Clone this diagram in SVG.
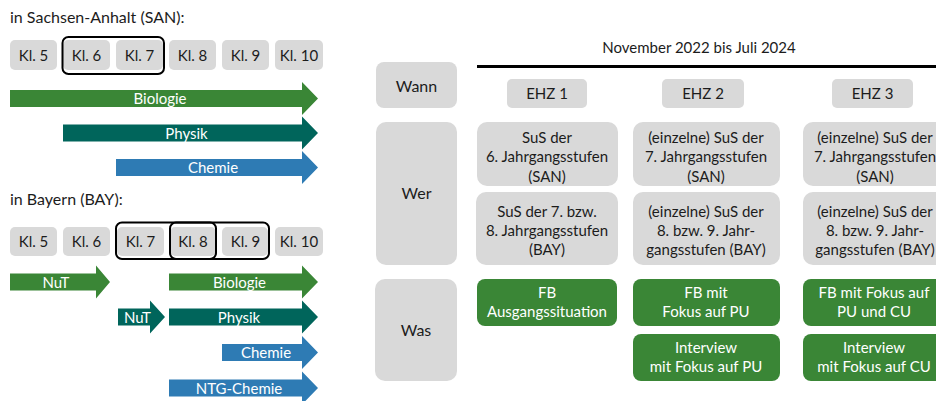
<svg xmlns="http://www.w3.org/2000/svg" width="936" height="401" viewBox="0 0 936 401">
<style>
text{font-family:Lato,"Liberation Sans",sans-serif;fill:#1c1c1c}
.t{font-size:16px}
.kl{font-size:15px;text-anchor:middle}
.box{fill:#d9d9d9}
.outl{fill:none;stroke:#000;stroke-width:2}
.ar{font-size:15px;text-anchor:middle;fill:#fff}
.green{fill:#3a8636}
.teal{fill:#00655b}
.blue{fill:#2e7bb4}
.lab{font-size:16px;text-anchor:middle}
.c{font-size:15px;text-anchor:middle}
.w{font-size:15px;text-anchor:middle;fill:#fff}
</style>

<g id="title-san"><text class="t" x="10" y="23">in Sachsen-Anhalt (SAN):</text></g>
<g id="san-kl5"><rect class="box" x="10" y="40" width="47" height="30" rx="5"/><text class="kl" x="33.5" y="60.5">Kl. 5</text></g>
<g id="san-kl6"><rect class="box" x="63" y="40" width="47" height="30" rx="5"/><text class="kl" x="86.5" y="60.5">Kl. 6</text></g>
<g id="san-kl7"><rect class="box" x="116" y="40" width="47" height="30" rx="5"/><text class="kl" x="139.5" y="60.5">Kl. 7</text></g>
<g id="san-kl8"><rect class="box" x="169" y="40" width="47" height="30" rx="5"/><text class="kl" x="192.5" y="60.5">Kl. 8</text></g>
<g id="san-kl9"><rect class="box" x="222" y="40" width="47" height="30" rx="5"/><text class="kl" x="245.5" y="60.5">Kl. 9</text></g>
<g id="san-kl10"><rect class="box" x="275" y="40" width="48" height="30" rx="5"/><text class="kl" x="299" y="60.5">Kl. 10</text></g>
<g id="san-frame"><rect class="outl" x="62.5" y="37" width="101.5" height="37" rx="6"/></g>

<g id="san-bio"><path class="green" d="M10,90 H302 V82 L318,98.5 L302,115 V107 H10 Z"/><text class="ar" x="160" y="104">Biologie</text></g>
<g id="san-phy"><path class="teal" d="M63,124.5 H302 V116.5 L318,133 L302,149.5 V141.5 H63 Z"/><text class="ar" x="186.5" y="138.5">Physik</text></g>
<g id="san-che"><path class="blue" d="M116,159 H302 V151 L318,167.5 L302,184 V176 H116 Z"/><text class="ar" x="213" y="173">Chemie</text></g>

<g id="title-bay"><text class="t" x="10" y="205">in Bayern (BAY):</text></g>
<g id="bay-kl5"><rect class="box" x="10" y="227" width="47" height="29" rx="5"/><text class="kl" x="33.5" y="247">Kl. 5</text></g>
<g id="bay-kl6"><rect class="box" x="63" y="227" width="47" height="29" rx="5"/><text class="kl" x="86.5" y="247">Kl. 6</text></g>
<g id="bay-kl7"><rect class="box" x="117" y="227" width="47" height="29" rx="5"/><text class="kl" x="140.5" y="247">Kl. 7</text></g>
<g id="bay-kl8"><rect class="box" x="170" y="227" width="46" height="29" rx="5"/><text class="kl" x="193" y="247">Kl. 8</text></g>
<g id="bay-kl9"><rect class="box" x="222" y="227" width="46" height="29" rx="5"/><text class="kl" x="245.5" y="247">Kl. 9</text></g>
<g id="bay-kl10"><rect class="box" x="275" y="227" width="48" height="29" rx="5"/><text class="kl" x="299" y="247">Kl. 10</text></g>
<g id="bay-frame"><rect class="outl" x="116" y="222.5" width="153" height="36.5" rx="6"/><rect class="outl" x="170" y="222.5" width="46" height="36.5" rx="6"/></g>

<g id="bay-nut1"><path class="green" d="M10,273.5 H96 V265.5 L110,282 L96,298.5 V290.5 H10 Z"/><text class="ar" x="56" y="287.5">NuT</text></g>
<g id="bay-bio"><path class="green" d="M169,273.5 H302 V265.5 L318,282 L302,298.5 V290.5 H169 Z"/><text class="ar" x="239.5" y="287.5">Biologie</text></g>
<g id="bay-nut2"><path class="teal" d="M118,308.5 H150 V300.5 L165,317 L150,333.5 V325.5 H118 Z"/><text class="ar" x="137.5" y="322.5">NuT</text></g>
<g id="bay-phy"><path class="teal" d="M169,308.5 H302 V300.5 L318,317 L302,333.5 V325.5 H169 Z"/><text class="ar" x="239" y="322.5">Physik</text></g>
<g id="bay-che"><path class="blue" d="M222,344 H302 V336 L318,352.5 L302,369 V361 H222 Z"/><text class="ar" x="266" y="358">Chemie</text></g>
<g id="bay-ntg"><path class="blue" d="M169,379.5 H302 V371.5 L318,388 L302,404.5 V396.5 H169 Z"/><text class="ar" x="239" y="393.5">NTG-Chemie</text></g>

<g id="connectors"><line x1="477" y1="66.5" x2="936" y2="66.5" stroke="#000" stroke-width="3"/></g>
<g id="timeline-label"><text class="c" x="699" y="53">November 2022 bis Juli 2024</text></g>

<g id="wann"><rect class="box" x="376" y="62" width="81" height="46" rx="8"/><text class="lab" x="416.5" y="91.5">Wann</text></g>
<g id="wer"><rect class="box" x="376" y="122" width="81" height="143" rx="10"/><text class="lab" x="416.5" y="199">Wer</text></g>
<g id="was"><rect class="box" x="375" y="279" width="82" height="102" rx="10"/><text class="lab" x="416" y="336">Was</text></g>

<g id="ehz1"><rect class="box" x="507" y="79" width="80" height="29" rx="5"/><text class="c" x="547" y="99">EHZ 1</text></g>
<g id="ehz2"><rect class="box" x="662" y="79" width="82" height="29" rx="5"/><text class="c" x="703" y="99">EHZ 2</text></g>
<g id="ehz3"><rect class="box" x="832" y="79" width="81" height="29" rx="5"/><text class="c" x="872.5" y="99">EHZ 3</text></g>

<g id="wer1-san"><rect class="box" x="477" y="122" width="141" height="64" rx="10"/><text class="c" x="547" y="143">SuS der</text><text class="c" x="547" y="162.3">6. Jahrgangsstufen</text><text class="c" x="547" y="181.5">(SAN)</text></g>
<g id="wer1-bay"><rect class="box" x="476" y="192" width="142" height="73" rx="10"/><text class="c" x="547" y="216.5">SuS der 7. bzw.</text><text class="c" x="547" y="235.7">8. Jahrgangsstufen</text><text class="c" x="547" y="255">(BAY)</text></g>
<g id="wer2-san"><rect class="box" x="633" y="122" width="147" height="64" rx="10"/><text class="c" x="706" y="143">(einzelne) SuS der</text><text class="c" x="706" y="162.3">7. Jahrgangsstufen</text><text class="c" x="706" y="181.5">(SAN)</text></g>
<g id="wer2-bay"><rect class="box" x="633" y="192" width="147" height="73" rx="10"/><text class="c" x="706" y="216.5">(einzelne) SuS der</text><text class="c" x="706" y="235.7">8. bzw. 9. Jahr-</text><text class="c" x="706" y="255">gangsstufen (BAY)</text></g>
<g id="wer3-san"><rect class="box" x="803" y="122" width="146" height="64" rx="10"/><text class="c" x="875" y="143">(einzelne) SuS der</text><text class="c" x="875" y="162.3">7. Jahrgangsstufen</text><text class="c" x="875" y="181.5">(SAN)</text></g>
<g id="wer3-bay"><rect class="box" x="803" y="192" width="146" height="73" rx="10"/><text class="c" x="875" y="216.5">(einzelne) SuS der</text><text class="c" x="875" y="235.7">8. bzw. 9. Jahr-</text><text class="c" x="875" y="255">gangsstufen (BAY)</text></g>

<g id="was1"><rect class="green" x="477" y="279" width="140" height="47" rx="8"/><text class="w" x="547" y="298">FB</text><text class="w" x="547" y="317">Ausgangssituation</text></g>
<g id="was2a"><rect class="green" x="633" y="279" width="147" height="47" rx="8"/><text class="w" x="706" y="298">FB mit</text><text class="w" x="706" y="317">Fokus auf PU</text></g>
<g id="was2b"><rect class="green" x="633" y="334" width="147" height="47" rx="8"/><text class="w" x="706" y="353">Interview</text><text class="w" x="706" y="372">mit Fokus auf PU</text></g>
<g id="was3a"><rect class="green" x="803" y="279" width="146" height="47" rx="8"/><text class="w" x="874" y="298">FB mit Fokus auf</text><text class="w" x="874" y="317">PU und CU</text></g>
<g id="was3b"><rect class="green" x="803" y="334" width="146" height="47" rx="8"/><text class="w" x="874" y="353">Interview</text><text class="w" x="874" y="372">mit Fokus auf CU</text></g>
</svg>
